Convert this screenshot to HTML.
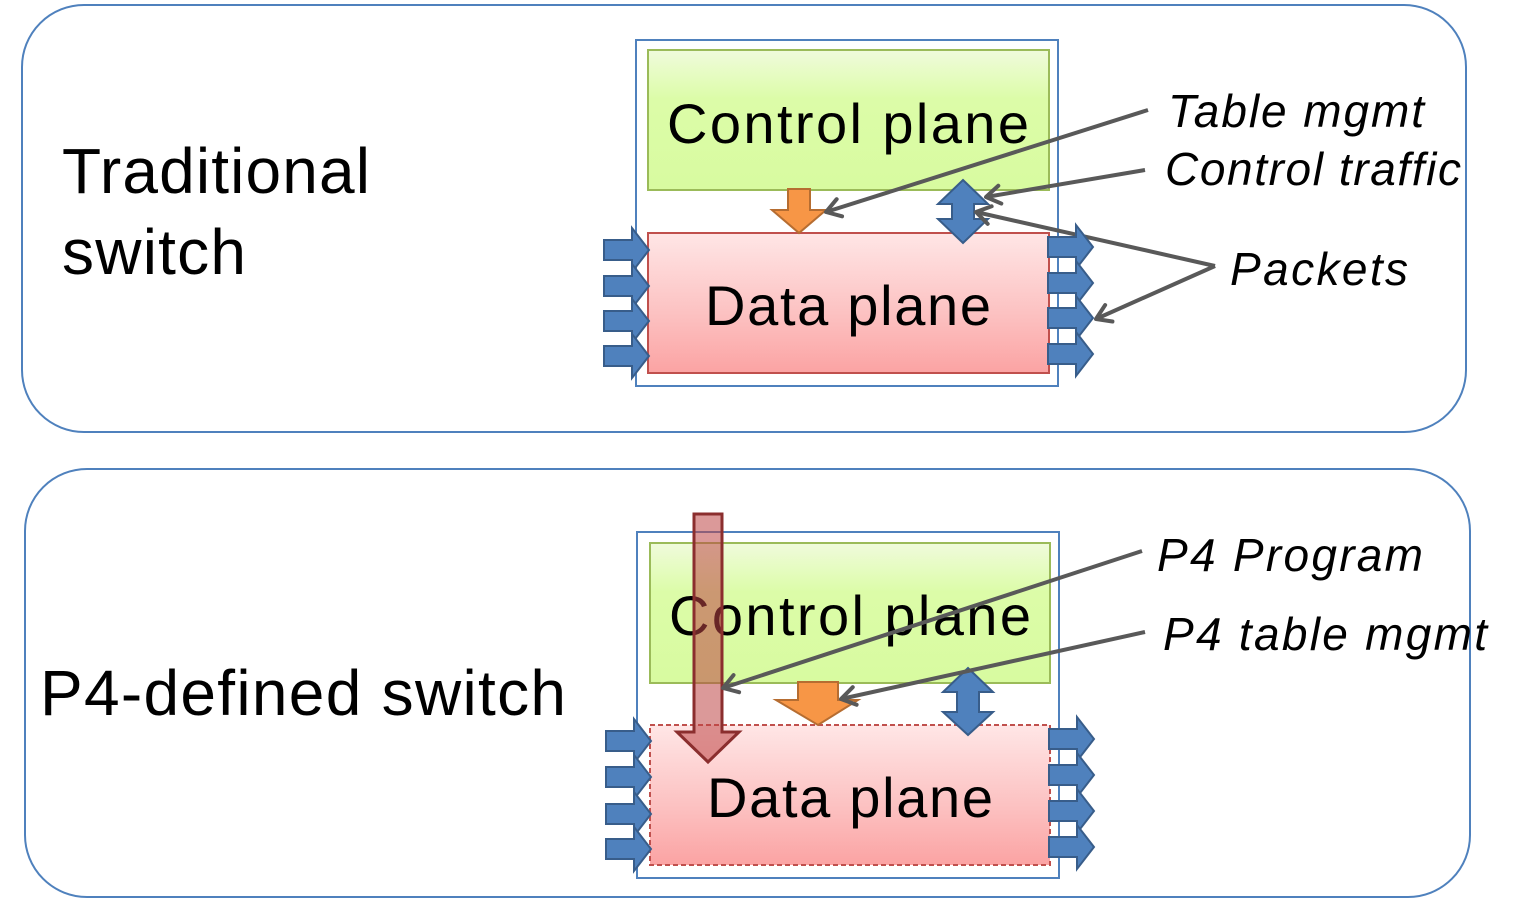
<!DOCTYPE html>
<html><head><meta charset="utf-8"><style>
html,body{margin:0;padding:0;background:#fff;width:1516px;height:909px;overflow:hidden}
svg{display:block}
text{font-family:"Liberation Sans",sans-serif}
</style></head><body>
<svg id="s" width="1516" height="909" viewBox="0 0 1516 909">
<defs>
<linearGradient id="g" x1="0" y1="0" x2="0" y2="1"><stop offset="0" stop-color="#f0fbdc"/><stop offset="0.35" stop-color="#dcfca8"/><stop offset="1" stop-color="#d8fba0"/></linearGradient>
<linearGradient id="p" x1="0" y1="0" x2="0" y2="1"><stop offset="0" stop-color="#ffe6e6"/><stop offset="0.6" stop-color="#fcc0c0"/><stop offset="1" stop-color="#fba3a3"/></linearGradient>
<marker id="ah" markerWidth="24" markerHeight="24" refX="20" refY="12" orient="auto" markerUnits="userSpaceOnUse" viewBox="0 0 24 24"><path d="M6,3 L20,12 L6,21" fill="none" stroke="#595959" stroke-width="4" stroke-linecap="round" stroke-linejoin="round"/></marker>
</defs>

<rect x="22" y="5" width="1444" height="427" rx="62" fill="#fff" stroke="#4f81bd" stroke-width="2"/>
<text x="62" y="193" font-size="64" textLength="308">Traditional</text>
<text x="62" y="274" font-size="64" textLength="184">switch</text>
<rect x="636" y="40" width="422" height="346" fill="none" stroke="#4f81bd" stroke-width="2"/>
<rect x="648" y="50" width="401" height="140" fill="url(#g)" stroke="#9bbb59" stroke-width="2"/>
<text x="848" y="143" font-size="56" text-anchor="middle" textLength="362">Control plane</text>
<rect x="648" y="233" width="401" height="140" fill="url(#p)" stroke="#c0504d" stroke-width="2"/>
<text x="848" y="325" font-size="56" text-anchor="middle" textLength="286">Data plane</text>
<path d="M788,189 L810,189 L810,210 L826,210 L799,233 L772,210 L788,210 Z" fill="#f79646" stroke="#b66d31" stroke-width="2"/>
<path d="M963,180 L988,204 L974,204 L974,219 L988,219 L963,243 L938,219 L952,219 L952,204 L938,204 Z" fill="#4f81bd" stroke="#385d8a" stroke-width="2"/>

<rect x="25" y="469" width="1445" height="428" rx="62" fill="#fff" stroke="#4f81bd" stroke-width="2"/>
<text x="40" y="715" font-size="64" textLength="526">P4-defined switch</text>
<rect x="637" y="532" width="422" height="346" fill="none" stroke="#4f81bd" stroke-width="2"/>
<rect x="650" y="543" width="400" height="140" fill="url(#g)" stroke="#9bbb59" stroke-width="2"/>
<text x="850" y="635" font-size="56" text-anchor="middle" textLength="362">Control plane</text>
<rect x="650" y="725" width="400" height="140" fill="url(#p)" stroke="#c0504d" stroke-width="2" stroke-dasharray="5,3"/>
<text x="850" y="817" font-size="56" text-anchor="middle" textLength="286">Data plane</text>
<path d="M798,682 L838,682 L838,700 L858,700 L818,725 L776,700 L798,700 Z" fill="#f79646" stroke="#b66d31" stroke-width="2"/>
<path d="M968,668 L993,692 L979,692 L979,712 L993,712 L968,735 L943,712 L957,712 L957,692 L943,692 Z" fill="#4f81bd" stroke="#385d8a" stroke-width="2"/>
<path d="M694,514 L722,514 L722,732 L739,732 L708,762 L677,732 L694,732 Z" fill="rgba(190,70,70,0.55)" stroke="#8b2e2e" stroke-width="3"/>

<g stroke="#595959" stroke-width="4" fill="none">
<line x1="1148" y1="110" x2="826" y2="212" marker-end="url(#ah)"/>
<line x1="1145" y1="170" x2="986" y2="197" marker-end="url(#ah)"/>
<line x1="1215" y1="266" x2="976" y2="212" marker-end="url(#ah)"/>
<line x1="1215" y1="266" x2="1096" y2="319" marker-end="url(#ah)"/>
<line x1="1142" y1="551" x2="723" y2="688" marker-end="url(#ah)"/>
<line x1="1145" y1="632" x2="841" y2="699" marker-end="url(#ah)"/>
</g>
<g font-style="italic" font-size="46" fill="#000">
<text x="1168" y="127" textLength="256">Table mgmt</text>
<text x="1165" y="185" textLength="296">Control traffic</text>
<text x="1230" y="285" textLength="178">Packets</text>
<text x="1157" y="571" textLength="266">P4 Program</text>
<text x="1163" y="650" textLength="324">P4 table mgmt</text>
</g>
<g id="ports"></g>
</svg>
<script>
const ns='http://www.w3.org/2000/svg';
const g=document.getElementById('ports');
const ports=[[604,250],[604,286],[604,321],[604,356],[1048,247],[1048,283],[1048,318],[1048,354],[606,741],[606,777],[606,814],[606,849],[1049,739],[1049,775],[1049,811],[1049,847]];
ports.forEach(function(pt,i){
  const x=pt[0],y=pt[1];
  const p=document.createElementNS(ns,'path');
  p.setAttribute('d','M'+x+','+(y-10)+' L'+(x+28)+','+(y-10)+' L'+(x+28)+','+(y-22)+' L'+(x+45)+','+y+' L'+(x+28)+','+(y+22)+' L'+(x+28)+','+(y+10)+' L'+x+','+(y+10)+' Z');
  p.setAttribute('fill','#4f81bd');
  p.setAttribute('stroke','#385d8a');
  p.setAttribute('stroke-width','2');
  
  
  g.appendChild(p);
});
</script>
</body></html>
